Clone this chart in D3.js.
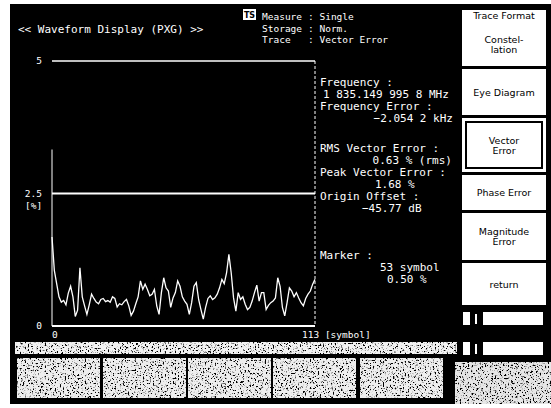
<!DOCTYPE html>
<html>
<head>
<meta charset="utf-8">
<script src="https://cdn.jsdelivr.net/npm/d3@7"></script>
<style>
  html, body { margin: 0; padding: 0; background: #fff; }
  svg { display: block; }
  .mono { font-family: "DejaVu Sans Mono", monospace; font-size: 11px; fill: #fff; }
  .small { font-size: 9.5px; }
  .key { font-family: "DejaVu Sans", sans-serif; font-size: 9.5px; fill: #000; text-anchor: middle; }
</style>
</head>
<body>
<svg id="chart" width="551" height="408"></svg>
<script>
// Vector error (%) per symbol, symbols 0..113
const symbols = d3.range(0, 114);
const vectorError = [
  1.68, 1.05, 0.80, 0.55, 0.45, 0.48, 0.40, 0.62, 0.75, 0.55,
  0.18, 0.30, 1.10, 0.55, 0.38, 0.22, 0.40, 0.60, 0.52, 0.45,
  0.42, 0.50, 0.52, 0.46, 0.48, 0.45, 0.55, 0.52, 0.36, 0.42,
  0.40, 0.46, 0.50, 0.38, 0.20, 0.28, 0.42, 0.55, 0.85, 0.69,
  0.79, 0.69, 0.57, 0.60, 0.69, 0.38, 0.22, 0.63, 0.91, 0.72,
  0.66, 0.35, 0.53, 0.63, 0.85, 0.75, 0.55, 0.47, 0.41, 0.22,
  0.44, 0.75, 0.82, 0.50, 0.31, 0.13, 0.35, 0.52, 0.57, 0.50,
  0.53, 0.60, 0.72, 0.88, 0.80, 1.00, 1.35, 1.00, 0.53, 0.28,
  0.63, 0.50, 0.55, 0.41, 0.31, 0.35, 0.47, 0.63, 0.77, 0.47,
  0.63, 0.63, 0.31, 0.39, 0.44, 0.47, 0.53, 0.91, 0.75, 0.35,
  0.19, 0.44, 0.72, 0.66, 0.55, 0.63, 0.53, 0.44, 0.38, 0.52,
  0.60, 0.66, 0.79, 0.88
];
const yTicks = [5, 2.5, 0];
const yTickLabels = ['5', '2.5', '0'];
const xTickLabels = ['0', '113 [symbol]'];

const title = '<< Waveform Display (PXG) >>';
const statusKeys = ['Measure', 'Storage', 'Trace'];
const statusVals = [': Single', ': Norm.', ': Vector Error'];
const infoText = [
  'Frequency :', '1 835.149 995 8 MHz', 'Frequency Error :', '\u22122.054 2 kHz',
  'RMS Vector Error :', '0.63 % (rms)', 'Peak Vector Error :', '1.68 %',
  'Origin Offset :', '\u221245.77 dB', 'Marker :', '53 symbol', '0.50 %'
];
const softkeys = [['Constel-', 'lation'], ['Eye Diagram'], ['Vector', 'Error'],
  ['Phase Error'], ['Magnitude', 'Error'], ['return']];

const svg = d3.select('#chart');

// scan-like speckle for the bottom status strip
const defs = svg.append('defs');
const f = defs.append('filter').attr('id', 'speckle').attr('x', 0).attr('y', 0).attr('width', '100%').attr('height', '100%');
f.append('feTurbulence').attr('type', 'fractalNoise').attr('baseFrequency', 0.6).attr('numOctaves', 2).attr('seed', 4).attr('result', 'n');
f.append('feColorMatrix').attr('in', 'n').attr('type', 'matrix')
  .attr('values', '0 0 0 0 0  0 0 0 0 0  0 0 0 0 0  8 0 0 0 -4.4').attr('result', 'dots');
f.append('feComposite').attr('in', 'dots').attr('in2', 'SourceGraphic').attr('operator', 'atop');

// screen
svg.append('rect').attr('x', 10).attr('y', 4).attr('width', 541).attr('height', 400).attr('fill', '#000');

// header
svg.append('text').attr('class', 'mono').attr('x', 18).attr('y', 33).text(title);
svg.append('rect').attr('x', 243).attr('y', 9).attr('width', 13).attr('height', 11).attr('fill', '#fff');
svg.append('text').attr('x', 249.5).attr('y', 18).attr('text-anchor', 'middle')
  .attr('font-family', 'DejaVu Sans').attr('font-size', 8).attr('font-weight', 'bold').text('TS');
statusKeys.forEach((k, i) => {
  svg.append('text').attr('class', 'mono small').attr('x', 262).attr('y', 20 + i * 11.5).text(k);
  svg.append('text').attr('class', 'mono small').attr('x', 308).attr('y', 20 + i * 11.5).text(statusVals[i]);
});

// plot
const x = d3.scaleLinear().domain([0, 113]).range([52, 315]);
const y = d3.scaleLinear().domain([0, 5]).range([326, 61]);

const g = svg.append('g');
g.selectAll('line.h').data(yTicks).join('line')
  .attr('x1', x(0)).attr('x2', x(113))
  .attr('y1', d => y(d)).attr('y2', d => y(d))
  .attr('stroke', '#fff').attr('stroke-width', d => d === 5 ? 1.6 : 2.2);
g.append('line').attr('x1', x(113)).attr('x2', x(113)).attr('y1', y(5)).attr('y2', y(0))
  .attr('stroke', '#fff').attr('stroke-width', 1).attr('stroke-dasharray', '3,2');
g.append('line').attr('x1', x(0)).attr('x2', x(0)).attr('y1', y(2.5) - 44).attr('y2', y(0))
  .attr('stroke', '#fff').attr('stroke-width', 1);

g.selectAll('text.yt').data(yTicks).join('text').attr('class', 'mono small')
  .attr('x', 42).attr('y', d => y(d) + 3).attr('text-anchor', 'end')
  .text((d, i) => yTickLabels[i]);
g.append('text').attr('class', 'mono small').attr('x', 25).attr('y', y(2.5) + 15).text('[%]');
g.append('text').attr('class', 'mono small').attr('x', x(0)).attr('y', 338).text(xTickLabels[0]);
g.append('text').attr('class', 'mono small').attr('x', x(113) - 13).attr('y', 338).text(xTickLabels[1]);

const line = d3.line().x((d, i) => x(symbols[i])).y(d => y(d));
g.append('path').datum(vectorError).attr('d', line)
  .attr('fill', 'none').attr('stroke', '#fff').attr('stroke-width', 1.3);

// readout column
const infoPos = [
  [320, 86, 'start'], [323, 98, 'start'], [320, 110, 'start'], [453, 122, 'end'],
  [320, 152, 'start'], [452, 164, 'end'], [320, 176, 'start'], [375, 188, 'start'],
  [320, 200, 'start'], [362, 212, 'start'], [320, 259, 'start'], [380, 271, 'start'], [387, 283, 'start']
];
svg.selectAll('text.info').data(infoText).join('text').attr('class', 'mono')
  .attr('x', (d, i) => infoPos[i][0]).attr('y', (d, i) => infoPos[i][1])
  .attr('text-anchor', (d, i) => infoPos[i][2]).text(d => d);

// softkey panel
const keyBox = [[10, 66], [69, 115], [118, 172], [175, 210], [213, 260], [263, 305]];
softkeys.forEach((lab, i) => {
  const [t, b] = keyBox[i];
  svg.append('rect').attr('x', 462).attr('y', t).attr('width', 84).attr('height', b - t).attr('fill', '#fff');
  const cy = i === 0 ? (t + b) / 2 + 6 : (t + b) / 2;
  lab.forEach((s, j) => {
    svg.append('text').attr('class', 'key').attr('x', 504)
      .attr('y', cy + 3.5 + (j - (lab.length - 1) / 2) * 10).text(s);
  });
});
svg.append('text').attr('class', 'key').attr('x', 504).attr('y', 19).text('Trace Format');
svg.append('rect').attr('x', 466).attr('y', 122).attr('width', 76).attr('height', 46)
  .attr('fill', 'none').attr('stroke', '#000').attr('stroke-width', 2);
[312, 342].forEach(t => {
  svg.append('rect').attr('x', 483).attr('y', t).attr('width', 60).attr('height', 13).attr('fill', '#fff');
  svg.append('rect').attr('x', 463).attr('y', t).attr('width', 7).attr('height', 13).attr('fill', '#fff');
  svg.append('rect').attr('x', 475).attr('y', t + 2).attr('width', 2).attr('height', 10).attr('fill', '#fff');
});

// bottom status strip (illegible in the source scan)
svg.append('rect').attr('x', 15).attr('y', 342).attr('width', 442).attr('height', 12)
  .attr('fill', '#f2f2f2').attr('filter', 'url(#speckle)');
[17, 103, 188, 273, 360].forEach(bx => {
  svg.append('rect').attr('x', bx).attr('y', 358).attr('width', 83).attr('height', 40)
    .attr('fill', '#eeeeee').attr('filter', 'url(#speckle)');
});
svg.append('rect').attr('x', 455).attr('y', 362).attr('width', 96).attr('height', 42)
  .attr('fill', '#e6e6e6').attr('filter', 'url(#speckle)');
</script>
</body>
</html>
